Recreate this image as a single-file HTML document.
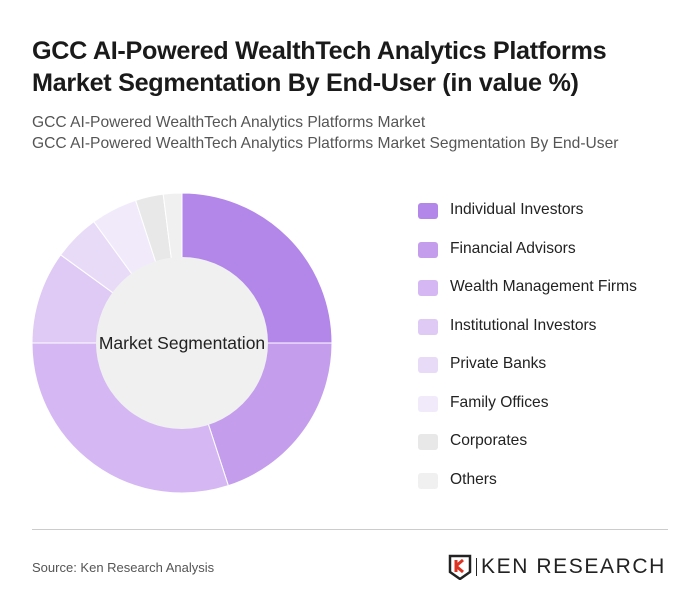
<!DOCTYPE html>
<html><head><meta charset="utf-8"><style>
body{margin:0;width:700px;height:615px;background:#fff;font-family:"Liberation Sans",sans-serif;position:relative;overflow:hidden}
.t{position:absolute;left:32px;top:35px;font-size:25.2px;font-weight:bold;color:#1a1a1a;line-height:32px;letter-spacing:-0.3px;white-space:nowrap}
.s{position:absolute;left:32px;font-size:15.6px;color:#555;white-space:nowrap}
.leg{position:absolute;left:418px;font-size:15.6px;color:#222}
.sw{position:absolute;left:0;top:2px;width:20px;height:16px;border-radius:3px}
.lt{position:absolute;left:32px;white-space:nowrap}
</style></head><body>
<div class="t">GCC AI-Powered WealthTech Analytics Platforms<br>Market Segmentation By End-User (in value %)</div>
<div class="s" style="top:114px">GCC AI-Powered WealthTech Analytics Platforms Market</div>
<div class="s" style="top:135px">GCC AI-Powered WealthTech Analytics Platforms Market Segmentation By End-User</div>
<svg id="ch" width="700" height="615" style="position:absolute;left:0;top:0"></svg>
<div id="legend"></div>
<div style="position:absolute;left:32px;top:529px;width:636px;height:1px;background:#ccc"></div>
<div style="position:absolute;left:32px;top:560px;font-size:13px;color:#555">Source: Ken Research Analysis</div>
<div style="position:absolute;left:448px;top:554px;width:225px;height:26px">
<svg width="24" height="26" style="position:absolute;left:0;top:0"><path d="M2 2h20v16l-10 7-10-7z" fill="none" stroke="#222" stroke-width="2.5"/><path d="M8 6v12M8 12l7-6M8 12l7 6" stroke="#d32" stroke-width="3" fill="none"/></svg>
<div style="position:absolute;left:28px;top:4px;width:1px;height:18px;background:#222"></div>
<div style="position:absolute;left:33px;top:1px;font-size:21px;color:#222;letter-spacing:1.6px;white-space:nowrap">KEN RESEARCH</div>
</div>
<script>
const categories=["Individual Investors","Financial Advisors","Wealth Management Firms","Institutional Investors","Private Banks","Family Offices","Corporates","Others"];
const values=[25,20,30,10,5,5,3,2];
const colors=["#b386ea","#c49ded","#d5b8f3","#dfc9f5","#e8dbf8","#f1eafb","#e8e8e8","#f0f0f0"];
const NS="http://www.w3.org/2000/svg";
const svg=document.getElementById('ch');
const cx=182,cy=343,R=150,r=86;
const total=values.reduce((a,b)=>a+b,0);
function pt(a,rad){return [cx+rad*Math.sin(a),cy-rad*Math.cos(a)];}
let acc=0;
values.forEach((v,i)=>{
 const a0=acc/total*2*Math.PI;acc+=v;const a1=acc/total*2*Math.PI;
 const [x0,y0]=pt(a0,R),[x1,y1]=pt(a1,R);
 const large=(a1-a0)>Math.PI?1:0;
 const p=document.createElementNS(NS,'path');
 p.setAttribute('d',`M${cx},${cy}L${x0},${y0}A${R},${R} 0 ${large} 1 ${x1},${y1}Z`);
 p.setAttribute('fill',colors[i]);p.setAttribute('stroke','#fff');p.setAttribute('stroke-width','1');
 
 
 svg.appendChild(p);
});
const c=document.createElementNS(NS,'circle');
c.setAttribute('cx',cx);c.setAttribute('cy',cy);c.setAttribute('r',r);c.setAttribute('fill','#f0f0f0');


svg.appendChild(c);
const t=document.createElementNS(NS,'text');
t.setAttribute('x',cx);t.setAttribute('y',cy+6);t.setAttribute('text-anchor','middle');
t.setAttribute('font-size','17.5');t.setAttribute('fill','#222');t.setAttribute('font-family','Liberation Sans, sans-serif');
t.textContent='Market Segmentation';


svg.appendChild(t);
const lg=document.getElementById('legend');
categories.forEach((n,i)=>{
 const d=document.createElement('div');d.className='leg';d.style.top=(201+i*38.5)+'px';
 
 
 d.innerHTML=`<div class="sw" style="background:${colors[i]}"></div><div class="lt">${n}</div>`;
 lg.appendChild(d);
});
</script>
</body></html>
